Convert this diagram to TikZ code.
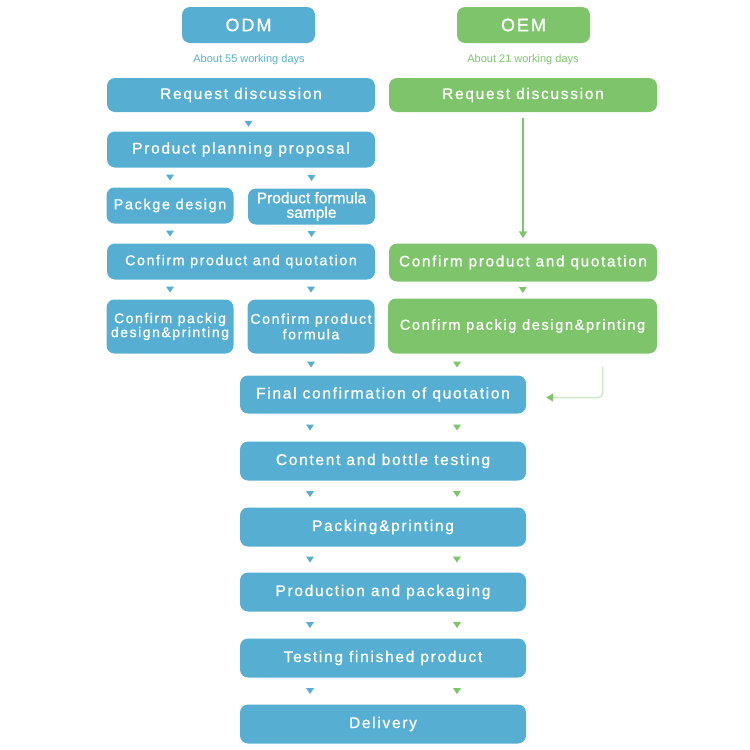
\documentclass[tikz,border=0pt]{standalone}
\usepackage{fontspec}
\setmainfont{Liberation Sans}
\newfontfamily\spacedfont{Liberation Sans}[LetterSpace=11,FakeBold=0.8]
\newfontfamily\boxfont{Liberation Sans}[FakeBold=0.8]
\usetikzlibrary{calc,arrows.meta}

\definecolor{odmblue}{RGB}{86,175,210}
\definecolor{oemgreen}{RGB}{126,196,106}
\definecolor{palegreen}{RGB}{204,232,196}

% small filled triangle pointing down
\newcommand{\downtri}[2]{\fill[#1] #2 ++(-4,-3) -- ++(8,0) -- ++(-4,6) -- cycle;}

\begin{document}
\begin{tikzpicture}[x=1pt,y=-1pt,
  box/.style={rounded corners=8pt, text=white, align=center, inner sep=0pt},
  odmbox/.style={box, fill=odmblue},
  oembox/.style={box, fill=oemgreen},
  wide/.style={minimum width=268pt, minimum height=36pt},
  half/.style={minimum width=127pt, minimum height=36pt},
  tall/.style={minimum width=127pt, minimum height=54pt},
  flow/.style={minimum width=286pt, minimum height=39pt},
  txt/.style={font=\spacedfont\fontsize{15.5}{17}\selectfont}]

\useasboundingbox (0,0) rectangle (750,750);

% Headers
\node[odmbox, minimum width=133pt, minimum height=36pt,
  font=\spacedfont\fontsize{18}{20}\selectfont] (odm) at (248.5,25) {ODM};
\node[oembox, minimum width=133pt, minimum height=36pt,
  font=\spacedfont\fontsize{18}{20}\selectfont] (oem) at (523.5,25) {OEM};
\node[text=odmblue, font=\fontsize{11}{12}\selectfont] (odmdays) at (249,60) {About 55 working days};
\node[text=oemgreen, font=\fontsize{11}{12}\selectfont] (oemdays) at (523,60) {About 21 working days};

% ODM column
\node[odmbox, wide, minimum height=34pt, txt] (reqodm) at (241,95) {Request discussion};
\node[odmbox, wide, txt] (plan) at (241,149.5) {Product planning proposal};
\node[odmbox, half, font=\spacedfont\fontsize{14.5}{16}\selectfont] (pkg) at (170,205.5) {Packge design};
\node[odmbox, half, font=\boxfont\fontsize{15.5}{14.5}\selectfont] (formula) at (311.5,206.5) {Product formula\\sample};
\node[odmbox, wide, font=\spacedfont\fontsize{14.3}{16}\selectfont] (quoodm) at (241,261.5) {Confirm product and quotation};
\node[odmbox, tall, font=\spacedfont\fontsize{14}{14}\selectfont] (pkgodm) at (170,326.5) {Confirm packig\\design\&printing};
\node[odmbox, tall, font=\spacedfont\fontsize{14.2}{15.5}\selectfont] (formodm) at (311,326.5) {Confirm product\\formula};

% OEM column
\node[oembox, wide, minimum height=34pt, txt] (reqoem) at (523,95) {Request discussion};
\node[oembox, wide, minimum height=38pt, txt, font=\spacedfont\fontsize{15.3}{17}\selectfont] (quooem) at (523,262.5) {Confirm product and quotation};
\node[oembox, minimum width=269pt, minimum height=55pt,
  font=\spacedfont\fontsize{14.6}{16}\selectfont] (pkgoem) at (522.5,326) {Confirm packig design\&printing};

% Common steps
\node[odmbox, flow, minimum height=38pt, txt] (final) at (383,394.5) {Final confirmation of quotation};
\node[odmbox, flow, txt] (testing) at (383,461) {Content and bottle testing};
\node[odmbox, flow, txt] (packing) at (383,527) {Packing\&printing};
\node[odmbox, flow, txt] (production) at (383,592) {Production and packaging};
\node[odmbox, flow, txt] (finished) at (383,658) {Testing finished product};
\node[odmbox, flow, txt] (delivery) at (383,724) {Delivery};

% ODM markers
\downtri{odmblue}{($(reqodm.south -| odm)!0.5!(plan.north -| odm)+(0,2)$)}
\downtri{odmblue}{($(plan.south -| pkg)!0.5!(pkg.north)$)}
\downtri{odmblue}{($(plan.south -| formula)!0.5!(formula.north)$)}
\downtri{odmblue}{($(pkg.south)!0.5!(quoodm.north -| pkg)$)}
\downtri{odmblue}{($(formula.south)!0.5!(quoodm.north -| formula)$)}
\downtri{odmblue}{($(quoodm.south -| pkgodm)!0.5!(pkgodm.north)$)}
\downtri{odmblue}{($(quoodm.south -| formodm)!0.5!(formodm.north)$)}
\downtri{odmblue}{($(formodm.south)!0.5!(final.north -| formodm)$)}

% OEM markers and connectors
\draw[oemgreen, line width=2pt, -{Triangle[length=7pt,width=8pt]}]
  ($(reqoem.south)+(0,6)$) -- ($(quooem.north)+(0,-5)$);
\downtri{oemgreen}{($(quooem.south)!0.5!(pkgoem.north)$)}
\downtri{oemgreen}{($(pkgoem.south -| final)!0.5!(final.north)+(74,0)$)}
\coordinate (bend) at ($(pkgoem.south)+(80,13)$);
\draw[palegreen, line width=1.5pt, rounded corners=4pt,
  -{Triangle[length=7pt,width=8pt,color=oemgreen]}]
  (bend) |- ($(final.east)+(20,3)$);

% Markers between common steps
\foreach \a/\b in {final/testing, testing/packing, packing/production,
                   production/finished, finished/delivery}{
  \downtri{odmblue}{($(\a.south)!0.5!(\b.north)+(-73,0)$)}
  \downtri{oemgreen}{($(\a.south)!0.5!(\b.north)+(74,0)$)}
}

\end{tikzpicture}
\end{document}
